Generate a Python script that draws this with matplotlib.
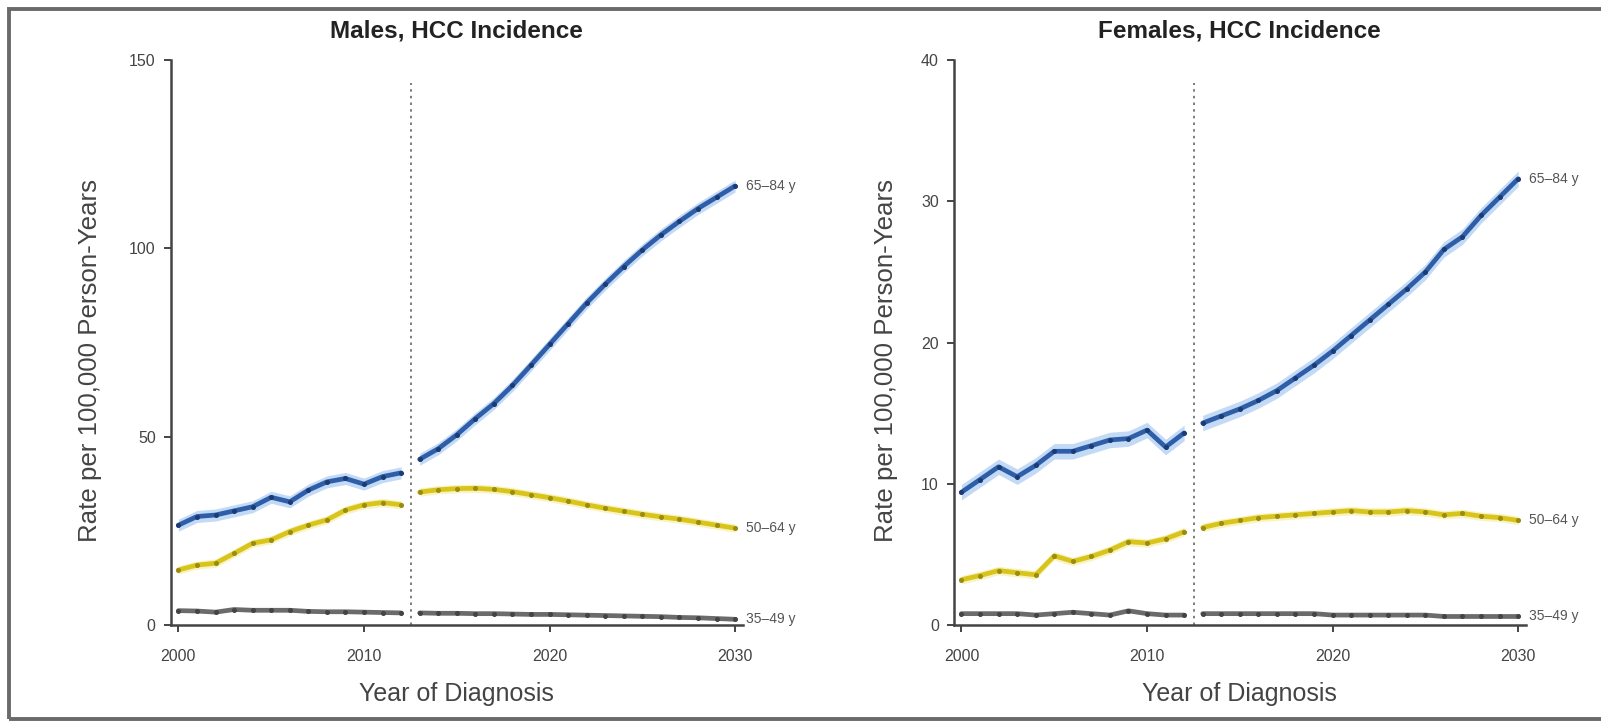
import numpy as np
import matplotlib.pyplot as plt
from matplotlib.patches import Rectangle

plt.rcParams['font.family'] = ['Liberation Sans', 'DejaVu Sans']

years_obs = list(range(2000, 2013))
years_fc = list(range(2013, 2031))

# Males, rate per 100,000
m_6584_obs = [26.5, 28.8, 29.2, 30.3, 31.4, 33.9, 32.7, 35.8, 38.0, 38.9, 37.4, 39.4, 40.4]
m_6584_fc = [44.0, 46.8, 50.5, 54.8, 58.8, 63.6, 69.0, 74.5, 80.0, 85.5, 90.5, 95.2,
             99.6, 103.6, 107.2, 110.6, 113.6, 116.6]
m_5064_obs = [14.6, 15.9, 16.4, 19.0, 21.7, 22.6, 24.8, 26.5, 27.9, 30.5, 31.9, 32.5, 31.9]
m_5064_fc = [35.3, 35.9, 36.2, 36.3, 36.0, 35.4, 34.6, 33.8, 32.9, 31.9, 31.0, 30.2,
             29.4, 28.7, 28.1, 27.3, 26.5, 25.7]
m_3549_obs = [3.8, 3.7, 3.4, 4.1, 3.9, 3.9, 3.9, 3.6, 3.5, 3.5, 3.4, 3.3, 3.2]
m_3549_fc = [3.2, 3.1, 3.1, 3.0, 3.0, 2.9, 2.8, 2.8, 2.7, 2.6, 2.5, 2.4,
             2.3, 2.2, 2.0, 1.9, 1.7, 1.5]

# Females, rate per 100,000
f_6584_obs = [9.4, 10.3, 11.2, 10.5, 11.3, 12.3, 12.3, 12.7, 13.1, 13.2, 13.8, 12.6, 13.6]
f_6584_fc = [14.3, 14.8, 15.3, 15.9, 16.6, 17.5, 18.4, 19.4, 20.5, 21.6, 22.7, 23.8,
             25.0, 26.6, 27.5, 29.0, 30.3, 31.6]
f_5064_obs = [3.2, 3.5, 3.85, 3.7, 3.55, 4.9, 4.5, 4.85, 5.3, 5.9, 5.8, 6.1, 6.6]
f_5064_fc = [6.9, 7.2, 7.4, 7.6, 7.7, 7.8, 7.9, 8.0, 8.1, 8.0, 8.0, 8.1,
             8.0, 7.8, 7.9, 7.7, 7.6, 7.4]
f_3549_obs = [0.8, 0.8, 0.8, 0.8, 0.7, 0.8, 0.9, 0.8, 0.7, 1.0, 0.8, 0.7, 0.7]
f_3549_fc = [0.8, 0.8, 0.8, 0.8, 0.8, 0.8, 0.8, 0.7, 0.7, 0.7, 0.7, 0.7,
             0.7, 0.6, 0.6, 0.6, 0.6, 0.6]

group_labels = ['65\u201384 y', '50\u201364 y', '35\u201349 y']
line_colors = ['#2f5ea8', '#d8c41a', '#6b6b6b']
mark_colors = ['#1c3b72', '#9a8c10', '#444444']
band_colors = ['#9cc2f0', '#f3eb9a', '#d0d0d0']


def draw_series(ax, obs, fc, idx, hw):
    for yrs, vals in ((years_obs, obs), (years_fc, fc)):
        v = np.array(vals)
        ax.fill_between(yrs, v - hw, v + hw, color=band_colors[idx], alpha=0.6, lw=0, zorder=1)
        ax.plot(yrs, v, color=line_colors[idx], lw=3.4, zorder=2, solid_capstyle='round')
        ax.plot(yrs, v, 'o', color=mark_colors[idx], ms=2.6, zorder=3)
    ax.text(2030.6, fc[-1], group_labels[idx], va='center', ha='left',
            fontsize=10, color='#555555', clip_on=False)


fig = plt.figure(figsize=(16.01, 7.25), dpi=100)
ax1 = fig.add_axes([0.1068, 0.138, 0.357, 0.779])
ax2 = fig.add_axes([0.5959, 0.138, 0.357, 0.779])

draw_series(ax1, m_6584_obs, m_6584_fc, 0, 1.6)
draw_series(ax1, m_5064_obs, m_5064_fc, 1, 1.1)
draw_series(ax1, m_3549_obs, m_3549_fc, 2, 0.4)

draw_series(ax2, f_6584_obs, f_6584_fc, 0, 0.55)
draw_series(ax2, f_5064_obs, f_5064_fc, 1, 0.3)
draw_series(ax2, f_3549_obs, f_3549_fc, 2, 0.1)

panels = [(ax1, 'Males, HCC Incidence', 150, [0, 50, 100, 150], -0.142),
          (ax2, 'Females, HCC Incidence', 40, [0, 10, 20, 30, 40], -0.119)]
for ax, title, top, yt, ylab_x in panels:
    ax.set_xlim(1999.6, 2030.4)
    ax.set_ylim(0, top)
    ax.set_xticks([2000, 2010, 2020, 2030])
    ax.set_yticks(yt)
    ax.axvline(2012.55, ymax=0.96, color='#666666', lw=1.2, ls=(0, (1.5, 2.5)), zorder=0)
    for s in ('top', 'right'):
        ax.spines[s].set_visible(False)
    for s in ('left', 'bottom'):
        ax.spines[s].set_color('#444444')
        ax.spines[s].set_linewidth(1.8)
    ax.tick_params(direction='out', length=5, width=1.4, color='#444444',
                   labelsize=11.5, labelcolor='#444444', pad=6)
    ax.tick_params(axis='x', pad=12)
    ax.set_title(title, fontsize=17.5, fontweight='bold', color='#222222', pad=16)
    ax.set_xlabel('Year of Diagnosis', fontsize=18, color='#444444', va='center')
    ax.xaxis.set_label_coords(0.5, -0.122)
    ax.set_ylabel('Rate per 100,000 Person-Years', fontsize=18.6, color='#444444', va='center')
    ax.yaxis.set_label_coords(ylab_x, 0.469)

# outer frame
fig.patches.append(Rectangle((9 / 1601, 6 / 725), 1.2, 710 / 725, transform=fig.transFigure,
                             fill=False, edgecolor='#6a6a6a', lw=2.8))

fig.savefig('out.png', dpi=100)
